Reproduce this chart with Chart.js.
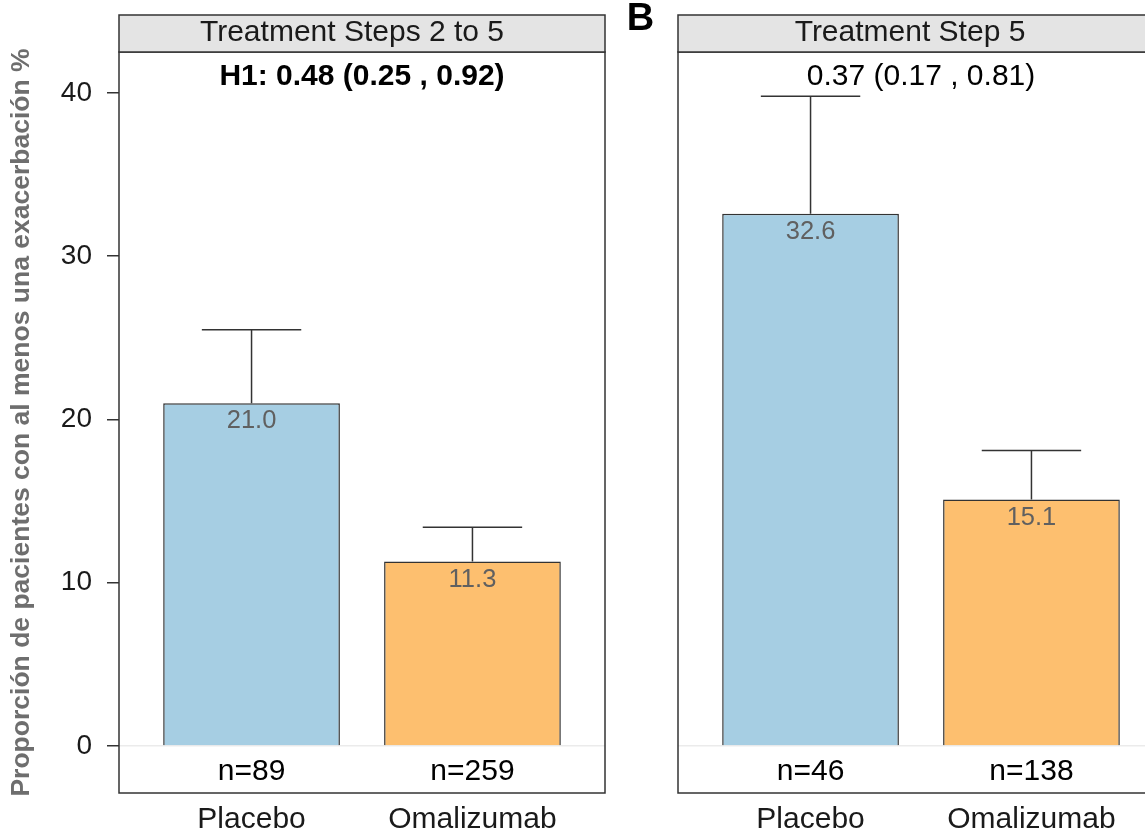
<!DOCTYPE html>
<html>
<head>
<meta charset="utf-8">
<title>Exacerbaciones por grupo</title>
<script src="https://cdn.jsdelivr.net/npm/chart.js@4.4.1/dist/chart.umd.min.js"></script>
<style>
  body { margin: 0; background: #fff; overflow: hidden; width: 1145px; height: 833px; position: relative; }
  canvas { position: absolute; top: 0; }
  #chartA { left: 0; }
  #chartB { left: 615px; }
</style>
</head>
<body>
<canvas id="chartA" width="615" height="833"></canvas>
<canvas id="chartB" width="549" height="833"></canvas>
<script>
// chart data
const categories = ['Placebo', 'Omalizumab'];
const barColors = ['#A6CEE3', '#FDBF6F'];

const panelTitles = ['Treatment Steps 2 to 5', 'Treatment Step 5'];
const panelNotes = ['H1: 0.48 (0.25 , 0.92)', '0.37 (0.17 , 0.81)'];

const allStepsPct = [21.0, 11.3];
const allStepsUpper = [25.5, 13.4];
const allStepsN = [89, 259];

const step5Pct = [32.6, 15.1];
const step5Upper = [39.8, 18.1];
const step5N = [46, 138];

const yTicks = [0, 10, 20, 30, 40];
const yTitle = 'Proporción de pacientes con al menos una exacerbación %';

Chart.defaults.font.family = "'Liberation Sans', Arial, sans-serif";
Chart.defaults.color = '#000';

// draws strip, panel border, error bars and the text inside each panel
const panelDecor = {
  id: 'panelDecor',
  afterDatasetsDraw(chart, args, opts) {
    const ctx = chart.ctx;
    const x = chart.scales.x;
    const y = chart.scales.y;
    const values = chart.data.datasets[0].data;
    ctx.save();

    // upper error bars
    ctx.strokeStyle = '#333';
    ctx.lineWidth = 1.5;
    opts.upper.forEach((u, i) => {
      const cx = x.getPixelForValue(i + 1);
      const half = x.getPixelForValue(i + 1 + 0.225) - cx;
      const top = y.getPixelForValue(values[i].y);
      const up = y.getPixelForValue(u);
      ctx.beginPath();
      ctx.moveTo(cx, top);
      ctx.lineTo(cx, up);
      ctx.moveTo(cx - half, up);
      ctx.lineTo(cx + half, up);
      ctx.stroke();
    });

    // value labels just inside the top of each bar
    ctx.fillStyle = '#606060';
    ctx.font = "25.5px 'Liberation Sans', Arial, sans-serif";
    ctx.textAlign = 'center';
    ctx.textBaseline = 'middle';
    values.forEach((v, i) => {
      ctx.fillText(v.y.toFixed(1), x.getPixelForValue(i + 1), y.getPixelForValue(v.y) + 18);
    });

    // sample sizes under the bars
    ctx.fillStyle = '#000';
    ctx.font = "30px 'Liberation Sans', Arial, sans-serif";
    opts.n.forEach((n, i) => {
      ctx.fillText('n=' + n, x.getPixelForValue(i + 1), y.getPixelForValue(-1.6));
    });

    // hazard ratio note
    ctx.font = (opts.noteBold ? 'bold ' : '') + "30px 'Liberation Sans', Arial, sans-serif";
    ctx.fillText(opts.note, x.getPixelForValue(1.5), y.getPixelForValue(41.0));
    ctx.restore();
  },
  afterDraw(chart, args, opts) {
    const ctx = chart.ctx;
    const area = chart.chartArea;
    ctx.save();

    // panel border
    ctx.strokeStyle = '#333';
    ctx.lineWidth = 1.5;
    ctx.strokeRect(area.left, area.top, area.right - area.left, area.bottom - area.top);

    // facet strip
    ctx.fillStyle = '#e4e4e4';
    ctx.fillRect(area.left, 15, area.right - area.left, area.top - 15);
    ctx.strokeRect(area.left, 15, area.right - area.left, area.top - 15);
    ctx.fillStyle = '#1a1a1a';
    ctx.font = "30px 'Liberation Sans', Arial, sans-serif";
    ctx.textAlign = 'center';
    ctx.textBaseline = 'middle';
    ctx.fillText(opts.title, opts.titleX, 33);

    // panel letter
    if (opts.letter) {
      ctx.fillStyle = '#000';
      ctx.font = "bold 38px 'Liberation Sans', Arial, sans-serif";
      ctx.textBaseline = 'alphabetic';
      ctx.fillText(opts.letter, 25.5, 30);
    }
    ctx.restore();
  }
};

function buildPanel(canvasId, pct, upper, n, title, titleX, note, noteBold, letter, showY) {
  const ctx = document.getElementById(canvasId).getContext('2d');
  return new Chart(ctx, {
    type: 'bar',
    data: {
      datasets: [{
        data: pct.map((v, i) => ({ x: i + 1, y: v })),
        backgroundColor: barColors,
        borderColor: '#333',
        borderWidth: 1.5,
        categoryPercentage: 1,
        barPercentage: 0.8
      }]
    },
    plugins: [panelDecor],
    options: {
      responsive: false,
      animation: false,
      layout: { padding: { top: 52, right: showY ? 10 : 0, bottom: 0, left: 0 } },
      plugins: {
        legend: { display: false },
        tooltip: { enabled: false },
        panelDecor: { upper: upper, n: n, title: title, titleX: titleX, note: note, noteBold: noteBold, letter: letter }
      },
      scales: {
        x: {
          type: 'linear',
          min: 0.4,
          max: 2.6,
          offset: false,
          afterBuildTicks: s => { s.ticks = categories.map((c, i) => ({ value: i + 1 })); },
          afterFit: s => { s.height = 40; },
          grid: { display: false, drawTicks: false, offset: false },
          border: { display: false },
          ticks: {
            autoSkip: false,
            maxRotation: 0,
            padding: 9,
            color: '#1a1a1a',
            font: { size: 30 },
            callback: v => categories[v - 1]
          }
        },
        y: {
          type: 'linear',
          min: -2.88,
          max: 42.51,
          afterBuildTicks: s => { s.ticks = yTicks.map(v => ({ value: v })); },
          afterFit: s => { s.width = showY ? 119 : 63; },
          border: { display: false },
          grid: {
            color: c => c.tick && c.tick.value === 0 ? '#ebebeb' : 'rgba(0,0,0,0)',
            lineWidth: 1.5,
            drawTicks: showY,
            tickLength: 12,
            tickColor: '#333',
            tickWidth: 1.5
          },
          ticks: {
            display: showY,
            padding: 15,
            color: '#1a1a1a',
            font: { size: 28 },
            callback: v => String(v)
          },
          title: {
            display: showY,
            text: yTitle,
            color: '#6e6e6e',
            font: { size: 26.5, weight: 'bold' },
            padding: { top: 6, bottom: 0 }
          }
        }
      }
    }
  });
}

buildPanel('chartA', allStepsPct, allStepsUpper, allStepsN, panelTitles[0], 352, panelNotes[0], true, null, true);
buildPanel('chartB', step5Pct, step5Upper, step5N, panelTitles[1], 295, panelNotes[1], false, 'B', false);
</script>
</body>
</html>
